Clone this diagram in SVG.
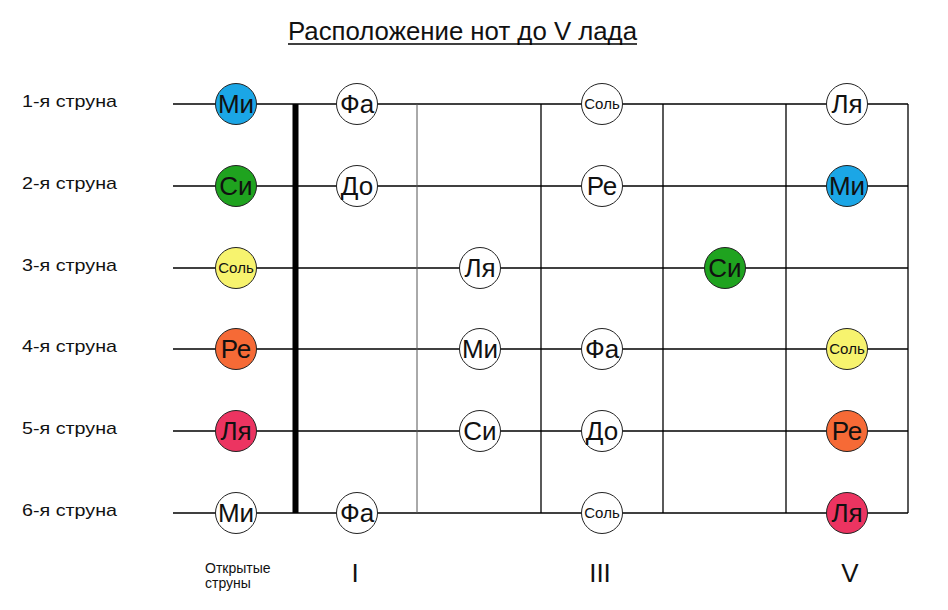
<svg xmlns="http://www.w3.org/2000/svg" width="948" height="610" viewBox="0 0 948 610">
<style>
text{font-family:"Liberation Sans",Arial,sans-serif;fill:#111}
.str{stroke:#000;stroke-width:1.3}
.fret{stroke:#000;stroke-width:1.3}
.note circle{stroke:#222;stroke-width:1}
.big{font-size:26px;text-anchor:middle}
.small{font-size:15px;text-anchor:middle}
.lbl{font-size:17px}
.rn{font-size:26px;text-anchor:middle}
.w{fill:#fff}.mi{fill:#1BA6E6}.si{fill:#1FA31F}.sol{fill:#F7F36E}.re{fill:#F66A36}.la{fill:#EC3461}
</style>
<rect width="948" height="610" fill="#fff"/>
<g id="title">
<text x="288" y="40" font-size="25" textLength="349" lengthAdjust="spacingAndGlyphs">Расположение нот до V лада</text>
<line x1="288" y1="44" x2="637" y2="44" stroke="#000" stroke-width="1.5"/>
</g>
<g id="string-labels">
<text class="lbl" x="22" y="107" textLength="95" lengthAdjust="spacingAndGlyphs">1-я струна</text>
<text class="lbl" x="22" y="189" textLength="95" lengthAdjust="spacingAndGlyphs">2-я струна</text>
<text class="lbl" x="22" y="271" textLength="95" lengthAdjust="spacingAndGlyphs">3-я струна</text>
<text class="lbl" x="22" y="352" textLength="95" lengthAdjust="spacingAndGlyphs">4-я струна</text>
<text class="lbl" x="22" y="434" textLength="95" lengthAdjust="spacingAndGlyphs">5-я струна</text>
<text class="lbl" x="22" y="516" textLength="95" lengthAdjust="spacingAndGlyphs">6-я струна</text>
</g>
<g id="connectors">
<line class="str" x1="173" y1="104" x2="908" y2="104"/>
<line class="str" x1="173" y1="186" x2="908" y2="186"/>
<line class="str" x1="173" y1="268" x2="908" y2="268"/>
<line class="str" x1="173" y1="349" x2="908" y2="349"/>
<line class="str" x1="173" y1="431" x2="908" y2="431"/>
<line class="str" x1="173" y1="513" x2="908" y2="513"/>
<line x1="417" y1="104" x2="417" y2="513" stroke="#555" stroke-width="1"/>
<line class="fret" x1="541" y1="104" x2="541" y2="513"/>
<line class="fret" x1="663" y1="104" x2="663" y2="513"/>
<line class="fret" x1="786" y1="104" x2="786" y2="513"/>
<line class="fret" x1="908" y1="104" x2="908" y2="513"/>
<line x1="295.5" y1="104" x2="295.5" y2="513" stroke="#000" stroke-width="6"/>
</g>
<!-- open strings -->
<g id="n-1-0" class="note"><circle class="mi" cx="236" cy="104" r="20.5"/><text class="big" x="236" y="113">Ми</text></g>
<g id="n-2-0" class="note"><circle class="si" cx="236" cy="186" r="20.5"/><text class="big" x="236" y="195">Си</text></g>
<g id="n-3-0" class="note"><circle class="sol" cx="236" cy="268" r="20.5"/><text class="small" x="236" y="273">Соль</text></g>
<g id="n-4-0" class="note"><circle class="re" cx="236" cy="349" r="20.5"/><text class="big" x="236" y="358">Ре</text></g>
<g id="n-5-0" class="note"><circle class="la" cx="236" cy="431" r="20.5"/><text class="big" x="236" y="440">Ля</text></g>
<g id="n-6-0" class="note"><circle class="w" cx="236" cy="513" r="20.5"/><text class="big" x="236" y="522">Ми</text></g>
<!-- fret I -->
<g id="n-1-1" class="note"><circle class="w" cx="357" cy="104" r="20.5"/><text class="big" x="357" y="113">Фа</text></g>
<g id="n-2-1" class="note"><circle class="w" cx="357" cy="186" r="20.5"/><text class="big" x="357" y="195">До</text></g>
<g id="n-6-1" class="note"><circle class="w" cx="357" cy="513" r="20.5"/><text class="big" x="357" y="522">Фа</text></g>
<!-- fret II -->
<g id="n-3-2" class="note"><circle class="w" cx="480" cy="268" r="20.5"/><text class="big" x="480" y="277">Ля</text></g>
<g id="n-4-2" class="note"><circle class="w" cx="480" cy="349" r="20.5"/><text class="big" x="480" y="358">Ми</text></g>
<g id="n-5-2" class="note"><circle class="w" cx="480" cy="431" r="20.5"/><text class="big" x="480" y="440">Си</text></g>
<!-- fret III -->
<g id="n-1-3" class="note"><circle class="w" cx="602" cy="104" r="20.5"/><text class="small" x="602" y="109">Соль</text></g>
<g id="n-2-3" class="note"><circle class="w" cx="602" cy="186" r="20.5"/><text class="big" x="602" y="195">Ре</text></g>
<g id="n-4-3" class="note"><circle class="w" cx="602" cy="349" r="20.5"/><text class="big" x="602" y="358">Фа</text></g>
<g id="n-5-3" class="note"><circle class="w" cx="602" cy="431" r="20.5"/><text class="big" x="602" y="440">До</text></g>
<g id="n-6-3" class="note"><circle class="w" cx="602" cy="513" r="20.5"/><text class="small" x="602" y="518">Соль</text></g>
<!-- fret IV -->
<g id="n-3-4" class="note"><circle class="si" cx="725" cy="268" r="20.5"/><text class="big" x="725" y="277">Си</text></g>
<!-- fret V -->
<g id="n-1-5" class="note"><circle class="w" cx="847" cy="104" r="20.5"/><text class="big" x="847" y="113">Ля</text></g>
<g id="n-2-5" class="note"><circle class="mi" cx="847" cy="186" r="20.5"/><text class="big" x="847" y="195">Ми</text></g>
<g id="n-4-5" class="note"><circle class="sol" cx="847" cy="349" r="20.5"/><text class="small" x="847" y="354">Соль</text></g>
<g id="n-5-5" class="note"><circle class="re" cx="847" cy="431" r="20.5"/><text class="big" x="847" y="440">Ре</text></g>
<g id="n-6-5" class="note"><circle class="la" cx="847" cy="513" r="20.5"/><text class="big" x="847" y="522">Ля</text></g>
<g id="bottom-labels">
<text x="205" y="573" font-size="14">Открытые</text>
<text x="205" y="588" font-size="14">струны</text>
<text class="rn" x="355" y="582">I</text>
<text class="rn" x="600" y="582">III</text>
<text class="rn" x="850" y="582">V</text>
</g>
</svg>
